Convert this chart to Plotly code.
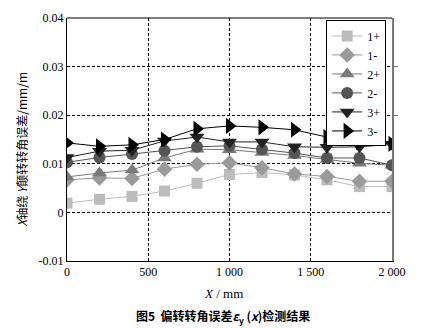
import plotly.graph_objects as go

# Measurement positions along X (mm)
x_pos = [0, 200, 400, 600, 800, 1000, 1200, 1400, 1600, 1800, 2000]

# Deflection angle error for each run (mm/m)
err_1p = [0.0019, 0.0027, 0.0033, 0.0044, 0.0060, 0.0078, 0.0082, 0.0077, 0.0067, 0.0053, 0.0053]
err_1m = [0.0067, 0.0071, 0.0070, 0.0089, 0.0099, 0.0102, 0.0092, 0.0079, 0.0074, 0.0064, 0.0064]
err_2p = [0.0073, 0.0081, 0.0087, 0.0112, 0.0130, 0.0129, 0.0123, 0.0117, 0.0109, 0.0101, 0.0097]
err_2m = [0.0103, 0.0113, 0.0120, 0.0127, 0.0135, 0.0137, 0.0130, 0.0122, 0.0112, 0.0112, 0.0097]
err_3p = [0.0113, 0.0126, 0.0128, 0.0147, 0.0155, 0.0145, 0.0145, 0.0135, 0.0134, 0.0135, 0.0140]
err_3m = [0.0143, 0.0136, 0.0139, 0.0150, 0.0172, 0.0178, 0.0175, 0.0170, 0.0155, 0.0145, 0.0141]

series_names = ["1+", "1-", "2+", "2-", "3+", "3-"]
series_vals = [err_1p, err_1m, err_2p, err_2m, err_3p, err_3m]
colors = ["#bcbcbc", "#9a9a9a", "#7a7a7a", "#555555", "#222222", "#000000"]
symbols = ["square", "diamond", "triangle-up", "circle", "triangle-down", "triangle-right"]
sizes = [11, 12, 13, 12, 13, 14]

x_ticks = [0, 500, 1000, 1500, 2000]
x_ticklabels = ["0", "500", "1 000", "1 500", "2 000"]
y_ticks = [-0.01, 0, 0.01, 0.02, 0.03, 0.04]
y_ticklabels = ["-0.01", "0", "0.01", "0.02", "0.03", "0.04"]

serif = "Liberation Serif"
cjk = "Noto Sans CJK SC"

fig = go.Figure()
for name, vals, c, s, sz in zip(series_names, series_vals, colors, symbols, sizes):
    fig.add_trace(go.Scatter(
        x=x_pos, y=vals, name=name, mode="lines+markers",
        line=dict(color=c, width=1),
        marker=dict(symbol=s, size=sz, color=c, line=dict(width=0)),
    ))

# invisible trace carrying the right-hand axis
fig.add_trace(go.Scatter(x=[0], y=[0], yaxis="y2", showlegend=False,
                         mode="markers", marker=dict(opacity=0), hoverinfo="skip"))

fig.update_layout(
    width=424, height=328,
    margin=dict(l=67, r=32, t=11, b=67),
    paper_bgcolor="white", plot_bgcolor="white",
    font=dict(family=serif, size=12, color="black"),
    xaxis=dict(
        range=[0, 2000], tickvals=x_ticks, ticktext=x_ticklabels,
        showgrid=True, gridcolor="black", griddash="3px,2px", gridwidth=1,
        showline=True, linecolor="black", linewidth=1, mirror=False,
        ticks="", zeroline=False, tickfont=dict(family=serif, size=12),
    ),
    yaxis=dict(
        range=[-0.01, 0.04], tickvals=y_ticks, ticktext=y_ticklabels,
        showgrid=True, gridcolor="black", griddash="3px,2px", gridwidth=1,
        showline=True, linecolor="black", linewidth=1,
        ticks="", zeroline=False, tickfont=dict(family=serif, size=12),
    ),
    yaxis2=dict(
        range=[-0.01, 0.04], overlaying="y", side="right",
        tickvals=[0.02, 0.03], showticklabels=False, ticks="outside",
        ticklen=4, tickcolor="#777777", showgrid=False, zeroline=False,
        showline=True, linecolor="#777777", linewidth=2,
    ),
    legend=dict(
        x=0.982, y=0.99, xanchor="right", yanchor="top",
        bgcolor="white", bordercolor="black", borderwidth=1,
        font=dict(family=serif, size=12), tracegroupgap=0,
        itemwidth=30,
    ),
    shapes=[dict(type="line", xref="paper", yref="paper", x0=0, x1=1, y0=1, y1=1,
                 line=dict(color="black", width=1))],
    annotations=[
        dict(text="<i>X</i> / mm", xref="paper", yref="paper", x=0.48, y=-0.135,
             xanchor="center", yanchor="middle", showarrow=False,
             font=dict(family=serif, size=13)),
        dict(text="<b>图5  偏转转角误差<i>ε</i><sub>y</sub> (<i>x</i>)检测结果</b>",
             xref="paper", yref="paper", x=0.48, y=-0.228,
             xanchor="center", yanchor="middle", showarrow=False,
             font=dict(family=cjk, size=12)),
        dict(text="<i>X</i>轴绕 <i>Y</i>颠转转角误差/mm/m", xref="paper", yref="paper",
             x=-0.14, y=0.46, xanchor="center", yanchor="middle", textangle=-90,
             showarrow=False, font=dict(family=cjk, size=12)),
    ],
)

fig.write_html("out.html")
